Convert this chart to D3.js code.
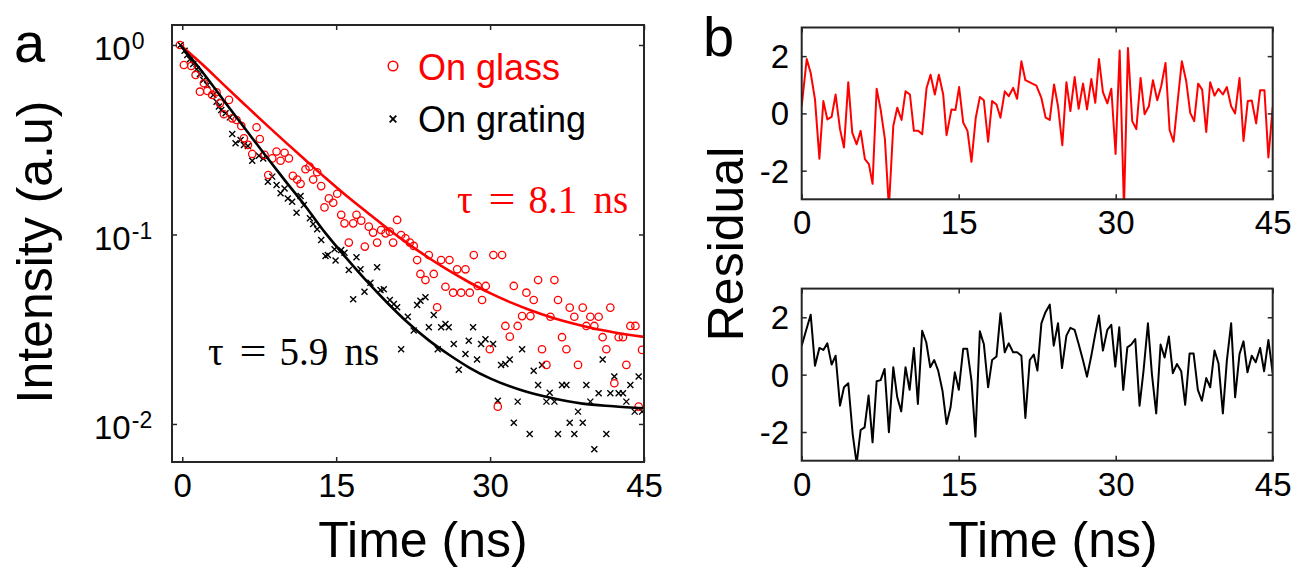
<!DOCTYPE html>
<html><head><meta charset="utf-8">
<script src="https://cdn.jsdelivr.net/npm/d3@7"></script>
<style>
body{margin:0;background:#fff}
svg text{font-family:"Liberation Sans",Arial,sans-serif}
svg text.serif{font-family:"Liberation Serif","Times New Roman",serif}
</style></head><body>
<svg id="c" width="1304" height="568"></svg>
<script>
// ---------- data ----------
const glassT = [-0.23,0.16,0.88,1.30,1.72,2.11,2.44,2.92,3.34,3.67,4.06,4.55,4.87,5.29,5.75,6.01,6.40,6.82,7.24,7.56,8.02,8.38,8.77,9.19,9.58,9.97,10.39,10.78,11.20,11.53,12.01,12.40,12.76,13.15,13.54,13.86,14.29,14.71,15.10,15.49,15.81,16.23,16.66,16.98,17.44,17.79,18.18,18.60,18.99,19.38,19.81,20.23,20.55,20.94,21.33,21.75,22.18,22.56,22.89,23.21,23.70,24.03,24.51,24.84,25.23,25.65,26.04,26.40,26.79,27.18,27.60,28.02,28.41,28.80,29.22,29.58,29.97,30.32,30.75,31.17,31.49,31.92,32.31,32.69,33.12,33.54,33.93,34.25,34.68,35.06,35.49,35.88,36.27,36.62,37.01,37.44,37.76,38.21,38.57,39.03,39.38,39.77,40.16,40.58,40.97,41.33,41.72,42.11,42.53,42.95,43.28,43.67,44.16,44.48,44.81];
const glassI = [1.000,0.784,0.775,0.695,0.567,0.628,0.572,0.545,0.563,0.492,0.431,0.513,0.410,0.402,0.374,0.322,0.297,0.266,0.368,0.319,0.263,0.206,0.252,0.274,0.245,0.270,0.252,0.204,0.195,0.185,0.221,0.228,0.195,0.213,0.180,0.139,0.155,0.147,0.164,0.127,0.1145,0.0906,0.1145,0.127,0.1183,0.0863,0.110,0.1023,0.0906,0.1056,0.1014,0.1035,0.0906,0.1193,0.0994,0.0954,0.0906,0.0870,0.0733,0.0619,0.0575,0.0779,0.0619,0.0413,0.0733,0.0530,0.0733,0.0493,0.0655,0.0493,0.0655,0.0493,0.0779,0.0535,0.0451,0.0535,0.0248,0.0779,0.01234,0.0779,0.0329,0.0289,0.0535,0.0329,0.0371,0.0493,0.0371,0.0451,0.0575,0.0248,0.0205,0.0368,0.0575,0.0451,0.0287,0.0248,0.0411,0.0368,0.0205,0.0411,0.0329,0.0368,0.0329,0.0368,0.0287,0.0248,0.0411,0.0164,0.0287,0.0287,0.0205,0.0329,0.0329,0.01234,0.0246];

const gratingT = [-0.16,0.23,0.49,0.75,1.07,1.40,1.72,2.05,2.44,3.02,3.34,3.57,3.80,4.22,4.64,4.87,5.19,5.68,6.01,6.40,6.82,7.47,7.89,8.34,8.77,9.19,9.58,9.97,10.29,10.71,11.14,11.53,11.85,12.44,12.76,13.15,13.54,13.96,14.19,14.84,14.94,15.49,15.81,16.23,16.66,16.98,17.37,17.76,18.34,18.99,19.32,19.64,20.23,20.62,20.94,21.33,21.98,22.56,22.89,23.21,23.70,24.03,24.51,24.90,25.23,25.65,25.97,26.46,26.95,27.60,27.92,28.34,28.73,29.12,29.55,30.29,30.75,31.07,31.49,31.92,32.31,32.69,33.12,33.86,34.25,34.68,35.06,35.49,35.81,36.27,36.62,37.01,37.44,37.76,38.21,38.57,39.03,39.38,39.77,40.16,40.58,40.97,41.33,41.72,42.11,42.53,42.95,43.28,43.67,44.09,44.48,44.81];
const gratingI = [1.000,0.933,0.886,0.840,0.794,0.744,0.703,0.654,0.615,0.545,0.502,0.473,0.454,0.436,0.415,0.339,0.303,0.315,0.297,0.293,0.245,0.260,0.252,0.190,0.202,0.1825,0.165,0.175,0.155,0.149,0.1303,0.1597,0.1431,0.1217,0.1136,0.1065,0.0935,0.0770,0.0779,0.0835,0.0728,0.0828,0.0802,0.0650,0.0455,0.0758,0.0655,0.0499,0.0557,0.0671,0.0509,0.0514,0.0451,0.0430,0.0413,0.0248,0.0368,0.0311,0.0425,0.0447,0.0466,0.0324,0.0376,0.0248,0.0324,0.0337,0.0324,0.0264,0.0193,0.0234,0.0275,0.0324,0.0219,0.0264,0.0280,0.0264,0.01327,0.0205,0.0207,0.0219,0.01016,0.01312,0.0248,0.00886,0.0191,0.01606,0.0205,0.01312,0.01463,0.01312,0.00886,0.01606,0.01606,0.01016,0.00886,0.01162,0.01016,0.01606,0.01312,0.00735,0.01451,0.0219,0.00886,0.01451,0.01778,0.01451,0.01451,0.01312,0.01606,0.01162,0.01778,0.01162];

const glassFitT = [-0.2,2,4,6,8,10,12,14,16,18,20,22,24,26,28,30,32,34,36,38,40,42,44,45];
const glassFitI = [1.0,0.786,0.620,0.490,0.388,0.309,0.247,0.198,0.160,0.131,0.1076,0.0895,0.0754,0.0644,0.0558,0.0490,0.0438,0.0397,0.0365,0.0340,0.0320,0.0305,0.0293,0.0288];
const gratingFitT = [-0.2,2,4,6,8,10,12,14,16,18,20,22,24,26,28,30,33,36,39,42,45];
const gratingFitI = [1.0,0.716,0.513,0.369,0.266,0.193,0.141,0.101,0.075,0.0565,0.0435,0.0342,0.0277,0.0232,0.0198,0.0174,0.0151,0.0137,0.0128,0.0124,0.0121];

const resGlassT = [0,0.48,0.86,1.27,1.69,2.07,2.45,2.86,3.24,3.66,4.04,4.45,4.83,5.25,5.63,6.04,6.42,6.77,7.16,7.54,7.95,8.33,8.75,9.13,9.54,9.92,10.34,10.72,11.13,11.51,11.93,12.31,12.72,13.10,13.52,13.84,14.31,14.69,15.04,15.43,15.84,16.22,16.63,17.02,17.40,17.81,18.19,18.61,18.99,19.40,19.78,20.20,20.58,20.99,21.37,22.42,22.90,23.31,23.70,24.11,24.49,24.90,25.29,25.67,26.08,26.46,26.88,27.26,27.67,28.05,28.40,28.78,29.20,29.58,29.99,30.38,30.79,31.17,31.58,31.97,32.38,32.76,33.17,33.56,33.97,34.35,34.76,35.15,35.53,35.94,36.32,36.74,37.12,37.50,37.88,38.26,38.65,39.03,39.44,39.82,40.24,40.62,41.03,41.41,41.83,42.21,42.62,43.00,43.42,43.80,44.21,44.59,45.0];
const resGlassV = [0.25,1.90,1.41,0.49,-1.58,0.43,-0.21,-0.12,0.66,-0.55,-1.19,1.09,-0.67,-1.08,-0.61,-1.60,-1.77,-2.46,0.86,0.14,-0.90,-3.3,-0.44,0.20,-0.23,0.77,0.66,-0.61,-0.61,-0.73,0.89,1.35,0.66,1.35,0.66,-0.76,0.14,0.12,0.92,-0.32,-0.61,-1.69,-0.15,0.57,0.46,-0.99,0.43,0.31,-0.15,0.77,0.60,0.89,0.51,1.82,1.16,0.97,0.54,-0.15,-0.23,1.01,0.25,-1.11,1.09,0.08,1.27,0.16,1.04,0.14,1.20,0.37,1.90,0.74,0.35,0.86,-1.42,2.20,-3.3,2.28,-0.27,-0.55,1.24,-0.03,0.25,1.16,0.46,0.95,1.76,-0.58,-0.99,0.49,1.82,1.12,0.02,-0.27,1.04,0.83,-0.65,1.09,0.62,0.86,0.66,0.92,0.25,0.00,1.24,-0.96,0.43,0.45,-0.35,0.81,0.81,-1.54,0.23];

const resGratingT = [0,0.41,0.86,1.27,1.69,2.07,2.45,2.86,3.24,3.66,4.04,4.45,4.87,5.25,5.63,6.01,6.39,6.77,7.16,7.54,7.92,8.33,8.75,9.13,9.51,9.92,10.31,10.72,11.10,11.51,11.90,12.28,12.66,13.04,13.45,13.84,14.22,14.63,15.01,15.43,15.81,16.22,16.60,17.02,17.40,17.81,18.19,18.61,18.99,19.40,19.78,20.20,20.58,20.99,21.37,21.79,22.17,22.52,22.90,23.28,23.70,24.08,24.49,24.87,25.29,25.67,26.08,26.46,26.88,27.26,27.67,28.05,28.40,28.78,29.20,29.58,29.96,30.34,30.72,31.11,31.49,31.87,32.28,32.66,33.08,33.46,33.87,34.29,34.67,35.08,35.46,35.85,36.26,36.64,37.06,37.44,37.85,38.23,38.65,39.03,39.44,39.82,40.24,40.62,41.03,41.41,41.83,42.21,42.59,43.00,43.38,43.80,44.18,44.59,45.0];
const resGratingV = [1.01,1.53,2.09,0.31,0.93,0.86,1.09,0.35,0.66,-1.08,-0.44,-0.30,-2.07,-3.1,-1.93,-1.84,-0.73,-2.36,-0.23,-0.19,0.20,-2.01,0.26,-0.79,-1.28,0.26,-0.53,0.93,-1.02,1.53,1.13,0.26,0.51,0.14,-0.56,-1.72,-1.14,0.08,-0.53,0.90,0.90,-0.21,-2.16,1.51,1.07,-0.44,0.51,0.63,2.14,0.78,1.09,0.78,0.78,0.66,-1.51,0.51,0.70,0.14,1.79,2.17,2.44,1.01,1.79,0.23,1.36,1.63,1.56,1.07,0.49,-0.07,0.66,1.42,2.06,0.84,1.56,1.74,0.28,1.65,-0.53,0.95,1.05,1.24,-1.08,0.14,1.79,0.02,-1.35,1.05,0.60,1.33,0.05,0.37,0.12,-1.05,0.74,0.74,-0.53,-0.91,-0.12,-0.44,0.84,0.40,-1.35,0.49,1.79,-0.79,0.72,1.16,0.08,0.66,0.43,0.93,0.12,1.21,0.05];

const timeTicks = [0,15,30,45];
const logTicks = [1,0.1,0.01];
const logTickExp = ["0","-1","-2"];
const resTicks = [-2,0,2];
const legendLabels = ["On glass","On grating"];
const tauLabels = [["\u03c4","=","8.1","ns"],["\u03c4","=","5.9","ns"]];

// ---------- drawing ----------
const RED = "#ff0000", BLK = "#000000", AX = "#262626";
const svg = d3.select("#c");
const FONT = "Liberation Sans, Arial, sans-serif";

function frame(g, x, y, xTicks, yTicks, showXLab, yFmt){
  const [x0,x1] = x.range(), [y0,y1] = y.range();
  const bot = g.append("g").attr("transform",`translate(0,${y0})`)
    .call(d3.axisBottom(x).tickValues(xTicks).tickSize(-5).tickPadding(0));
  const top = g.append("g").attr("transform",`translate(0,${y1})`)
    .call(d3.axisTop(x).tickValues(xTicks).tickSize(-5).tickFormat(()=>""));
  const left = g.append("g").attr("transform",`translate(${x0},0)`)
    .call(d3.axisLeft(y).tickValues(yTicks).tickSize(-5).tickFormat(yFmt||(()=>"")));
  const right = g.append("g").attr("transform",`translate(${x1},0)`)
    .call(d3.axisRight(y).tickValues(yTicks).tickSize(-5).tickFormat(()=>""));
  [bot,top,left,right].forEach(a=>{
    a.select(".domain").remove();
    a.selectAll("line").attr("stroke",AX).attr("stroke-width",1.5);
  });
  bot.selectAll("text").attr("y",35).attr("dy",null).attr("font-size",33).attr("fill","#000")
     .style("display", showXLab?null:"none");
  left.selectAll("text").attr("font-size",33).attr("fill","#000");
  g.append("rect").attr("x",x0).attr("y",y1).attr("width",x1-x0).attr("height",y0-y1)
    .attr("fill","none").attr("stroke",AX).attr("stroke-width",2);
  return {bot,left};
}

// ---- Panel a ----
const xa = d3.scaleLinear().domain([-1,45]).range([172,644]);
const ya = d3.scaleLog().domain([0.0063,1.275]).range([462,25]);
const ga = svg.append("g");
ga.append("clipPath").attr("id","clipA").append("rect")
  .attr("x",172).attr("y",25).attr("width",472).attr("height",437);
const da = ga.append("g").attr("clip-path","url(#clipA)");

const glassPts = glassT.map((t,i)=>[t,glassI[i]]);
const gratingPts = gratingT.map((t,i)=>[t,gratingI[i]]);
const cross = "M-3,-3L3,3M3,-3L-3,3";

da.selectAll("path.gx").data(gratingPts).enter().append("path").attr("class","gx")
  .attr("d",cross).attr("transform",d=>`translate(${xa(d[0])},${ya(d[1])})`)
  .attr("stroke",BLK).attr("stroke-width",1.4).attr("fill","none");
da.selectAll("circle.go").data(glassPts).enter().append("circle").attr("class","go")
  .attr("cx",d=>xa(d[0])).attr("cy",d=>ya(d[1])).attr("r",3.7)
  .attr("fill","none").attr("stroke",RED).attr("stroke-width",1.3);

const fitLine = d3.line().x(d=>xa(d[0])).y(d=>ya(d[1])).curve(d3.curveMonotoneX);
da.append("path").datum(glassFitT.map((t,i)=>[t,glassFitI[i]])).attr("d",fitLine)
  .attr("fill","none").attr("stroke",RED).attr("stroke-width",2.6);
da.append("path").datum(gratingFitT.map((t,i)=>[t,gratingFitI[i]])).attr("d",fitLine)
  .attr("fill","none").attr("stroke",BLK).attr("stroke-width",2.6);

const fa = frame(ga, xa, ya, timeTicks, logTicks, true, null);
// decade labels 10^n
fa.left.selectAll(".tick").each(function(d){
  const i = logTicks.indexOf(d);
  const t = d3.select(this).append("text").attr("x",94-172).attr("y",15)
    .attr("text-anchor","start").attr("font-size",33).attr("fill","#000");
  t.append("tspan").text("10");
  t.append("tspan").attr("dx",1).attr("dy",-11).attr("font-size",23).text(logTickExp[i]);
});

// legend
ga.append("circle").attr("cx",393).attr("cy",66).attr("r",4.8).attr("fill","none")
  .attr("stroke",RED).attr("stroke-width",1.5);
ga.append("text").attr("x",418).attr("y",80).attr("font-size",36).attr("fill",RED).text(legendLabels[0]);
ga.append("path").attr("d","M-3.3,-3.3L3.3,3.3M3.3,-3.3L-3.3,3.3").attr("transform","translate(393,119)")
  .attr("stroke",BLK).attr("stroke-width",1.8);
ga.append("text").attr("x",418).attr("y",132).attr("font-size",36).attr("fill",BLK).text(legendLabels[1]);

// tau annotations
function tau(x0,yb,parts,color){
  const t = ga.append("text").attr("class","serif").attr("y",yb).attr("font-size",39).attr("fill",color);
  const offs = [0,31.5,71.5,136.5];
  parts.forEach((p,i)=>{
    const s = t.append("tspan").attr("x",x0+offs[i]).text(p);
    if(p==="=") s.attr("textLength",27).attr("lengthAdjust","spacingAndGlyphs");
  });
}
tau(457,213,tauLabels[0],RED);
tau(208,365,tauLabels[1],BLK);

ga.append("text").attr("x",423).attr("y",557).attr("text-anchor","middle").attr("font-size",50).text("Time (ns)");
ga.append("text").attr("transform","translate(52,252) rotate(-90)").attr("text-anchor","middle")
  .attr("font-size",50).text("Intensity (a.u)");
ga.append("text").attr("x",14).attr("y",62).attr("font-size",56).text("a");

// ---- Panel b ----
const xb = d3.scaleLinear().domain([0,45]).range([801.7,1272.7]);
const yTop = d3.scaleLinear().domain([-3,3]).range([199.3,27.5]);
const yBot = d3.scaleLinear().domain([-3,3]).range([460.7,288.6]);
const resLine = (y)=>d3.line().x(d=>xb(d[0])).y(d=>y(d[1]));

function resPanel(y, T, V, color, id){
  const g = svg.append("g");
  g.append("clipPath").attr("id",id).append("rect")
    .attr("x",801.7).attr("y",y.range()[1]).attr("width",471).attr("height",y.range()[0]-y.range()[1]);
  g.append("g").attr("clip-path",`url(#${id})`).append("path")
    .datum(T.map((t,i)=>[t,V[i]])).attr("d",resLine(y))
    .attr("fill","none").attr("stroke",color).attr("stroke-width",2).attr("stroke-linejoin","round");
  const f = frame(g, xb, y, timeTicks, resTicks, true, d=>String(d));
  f.left.selectAll("text").attr("x",-12.5).attr("dy","0.35em").attr("text-anchor","end");
}
resPanel(yTop, resGlassT, resGlassV, RED, "clipT");
resPanel(yBot, resGratingT, resGratingV, BLK, "clipB");

svg.append("text").attr("x",1053).attr("y",557).attr("text-anchor","middle").attr("font-size",50).text("Time (ns)");
svg.append("text").attr("transform","translate(743,244) rotate(-90)").attr("text-anchor","middle")
  .attr("font-size",50).text("Residual");
svg.append("text").attr("x",703).attr("y",56).attr("font-size",56).text("b");
</script>
</body></html>
